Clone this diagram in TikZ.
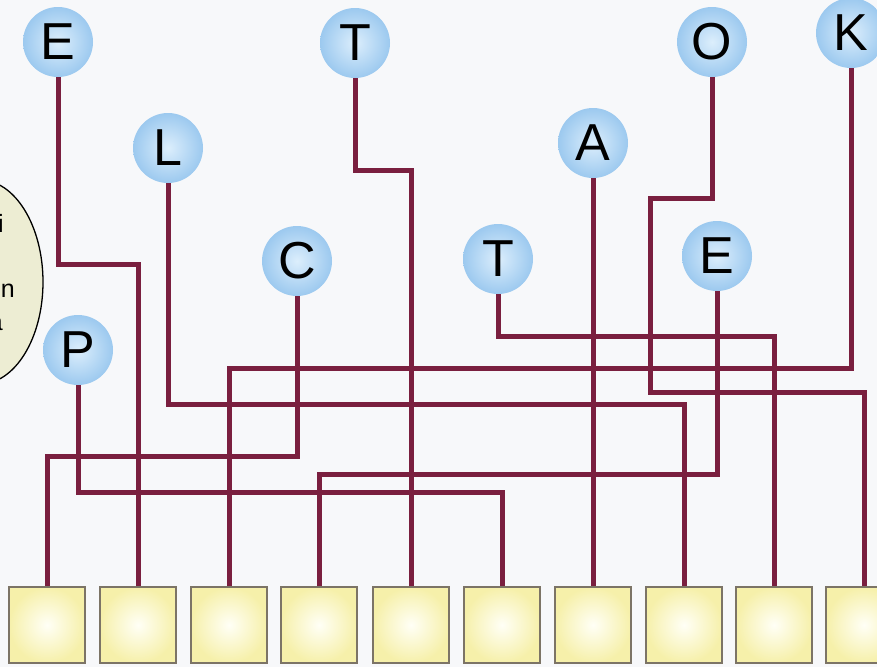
\documentclass[tikz,border=0pt]{standalone}
\usepackage{fontspec}
\setmainfont{Liberation Sans}
\usepackage{xcolor}
\usetikzlibrary{positioning}
\definecolor{wirecol}{HTML}{7A1F3F}
\definecolor{ballin}{HTML}{DCEEFC}
\definecolor{ballout}{HTML}{9CC9EF}
\definecolor{padin}{HTML}{FFFFF6}
\definecolor{padout}{HTML}{F6F0AA}
\definecolor{padborder}{HTML}{7C7466}
\definecolor{notebg}{HTML}{EDEDD3}
\definecolor{pagebg}{HTML}{F7F8FA}
\tikzset{
    letterball/.style={circle, minimum size=70pt, inner sep=0pt, inner color=ballin, outer color=ballout, font=\fontsize{52}{52}\selectfont, text=black},
    pad/.style={rectangle, minimum size=76pt, inner sep=0pt, draw=padborder, line width=1.2pt, inner color=padin, outer color=padout},
    wire/.style={wirecol, line width=5pt, line join=miter},
    notetext/.style={font=\fontsize{25}{25}\selectfont, anchor=base east, inner sep=0pt, text=black},
}

\begin{document}
\begin{tikzpicture}[x=1pt, y=-1pt]
\useasboundingbox (0,0) rectangle (877,667);
\clip (0,0) rectangle (877,667);
\fill[pagebg] (0,0) rectangle (877,667);
\draw[fill=notebg, line width=1.3pt] (-20,282) ellipse [x radius=63, y radius=102];
\node[notetext] (notei) at (4,232) {i};
\node[notetext] (noten) at (15,297) {n};
\node[notetext] (notea) at (3,330) {a};
\node[letterball] (eone) at (58,42) {E};
\node[letterball] (tone) at (355,43) {T};
\node[letterball] (lball) at (168,148) {L};
\node[letterball] (cball) at (297,261) {C};
\node[letterball] (pball) at (78,350) {P};
\node[letterball] (ttwo) at (498,259) {T};
\node[letterball] (aball) at (593,143) {A};
\node[letterball] (oball) at (712,42) {O};
\node[letterball] (etwo) at (717,256) {E};
\node[letterball] (kball) at (851,33) {K};
\node[pad] (pad1) at (47,625) {};
\node[pad] (pad2) at (138,625) {};
\node[pad] (pad3) at (229,625) {};
\node[pad] (pad4) at (319,625) {};
\node[pad] (pad5) at (411,625) {};
\node[pad] (pad6) at (502,625) {};
\node[pad] (pad7) at (593,625) {};
\node[pad] (pad8) at (684,625) {};
\node[pad] (pad9) at (774,625) {};
\node[pad] (pad10) at (864,625) {};
\draw[wire] (eone.south) |- ([yshift=322pt]pad2.north) -- (pad2.north);
\draw[wire] (tone.south) |- ([yshift=416pt]pad5.north) -- (pad5.north);
\draw[wire] (lball.south) |- ([yshift=182pt]pad8.north) -- (pad8.north);
\draw[wire] (cball.south) |- ([yshift=130pt]pad1.north) -- (pad1.north);
\draw[wire] (pball.south) |- ([yshift=94pt]pad6.north) -- (pad6.north);
\draw[wire] (ttwo.south) |- ([yshift=250pt]pad9.north) -- (pad9.north);
\draw[wire] (aball.south) -- (pad7.north);
\draw[wire] (oball.south) |- (650,198) |- ([yshift=194pt]pad10.north) -- (pad10.north);
\draw[wire] (etwo.south) |- ([yshift=112pt]pad4.north) -- (pad4.north);
\draw[wire] (kball.south) |- ([yshift=218pt]pad3.north) -- (pad3.north);
\end{tikzpicture}
\end{document}
